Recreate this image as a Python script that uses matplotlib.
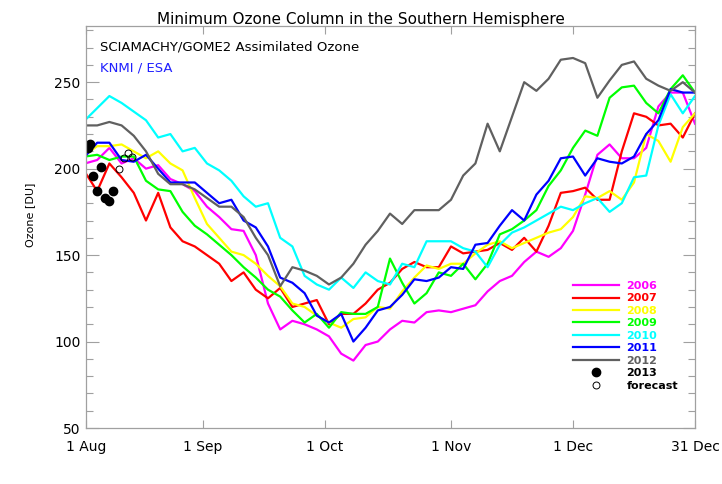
import numpy as np
import matplotlib
matplotlib.use("Agg")
import matplotlib.pyplot as plt
from matplotlib.lines import Line2D

# days since 1 Aug, sampled every 3 days
days = list(range(2, 153, 3))

o3_2006 = [203, 205, 212, 203, 206, 200, 202, 194, 191, 187, 178, 172, 165, 164, 150, 122, 107,
           112, 110, 107, 103, 93, 89, 98, 100, 107, 112, 111, 117, 118, 117, 119, 121, 129,
           135, 138, 146, 152, 149, 154, 164, 185, 208, 214, 206, 206, 212, 236, 244, 244, 226]
o3_2007 = [198, 187, 203, 195, 186, 170, 186, 166, 158, 155, 150, 145, 135, 140, 130, 125, 131,
           120, 122, 124, 110, 116, 116, 122, 130, 134, 142, 146, 143, 143, 155, 151, 152, 153,
           157, 153, 160, 152, 167, 186, 187, 189, 182, 182, 210, 232, 230, 225, 226, 218, 232]
o3_2008 = [208, 213, 213, 214, 210, 206, 210, 203, 199, 183, 168, 160, 152, 150, 145, 138, 132,
           122, 120, 115, 111, 108, 113, 114, 120, 119, 129, 137, 144, 142, 145, 145, 151, 156,
           158, 154, 157, 160, 163, 165, 172, 184, 183, 187, 182, 192, 220, 216, 204, 224, 232]
o3_2009 = [207, 208, 205, 207, 207, 193, 188, 187, 175, 167, 162, 156, 150, 143, 137, 130, 126,
           118, 111, 116, 108, 117, 116, 116, 120, 148, 134, 122, 128, 140, 138, 145, 136, 145,
           162, 165, 170, 176, 190, 199, 212, 222, 219, 241, 247, 248, 238, 232, 246, 254, 244]
o3_2010 = [228, 235, 242, 238, 233, 228, 218, 220, 210, 212, 203, 199, 193, 184, 178, 180, 160,
           155, 138, 133, 130, 137, 131, 140, 135, 133, 145, 143, 158, 158, 158, 154, 152, 143,
           156, 163, 166, 170, 174, 178, 176, 180, 183, 175, 180, 195, 196, 225, 243, 232, 242]
o3_2011 = [207, 215, 215, 205, 204, 208, 200, 192, 192, 192, 186, 180, 182, 170, 166, 155, 137,
           134, 128, 115, 111, 116, 100, 108, 118, 120, 127, 136, 135, 137, 143, 142, 156, 157,
           167, 176, 170, 185, 193, 206, 207, 196, 206, 204, 203, 207, 220, 228, 246, 244, 244]
o3_2012 = [225, 225, 227, 225, 219, 210, 197, 191, 191, 188, 183, 178, 178, 172, 160, 150, 132,
           143, 141, 138, 133, 137, 145, 156, 164, 174, 168, 176, 176, 176, 182, 196, 203, 226,
           210, 230, 250, 245, 252, 263, 264, 261, 241, 251, 260, 262, 252, 248, 245, 250, 244]

days_2013 = [2.75, 3.25, 4, 5, 6, 7, 8, 9]
o3_2013 = [212, 214, 196, 187, 201, 183, 181, 187]
days_fc = [10.4, 11.6, 12.6, 13.6]
o3_fc = [200, 206, 209, 207]

years = ["2006", "2007", "2008", "2009", "2010", "2011", "2012"]
series = [o3_2006, o3_2007, o3_2008, o3_2009, o3_2010, o3_2011, o3_2012]
colors = ["#ff00ff", "#ff0000", "#ffff00", "#00ff00", "#00ffff", "#0000ff", "#606060"]

tick_pos = [2.25, 31, 61, 92, 122, 152]
tick_lab = ["1 Aug", "1 Sep", "1 Oct", "1 Nov", "1 Dec", "31 Dec"]

fig = plt.figure(figsize=(7.22, 4.84), dpi=100)
ax = fig.add_axes([86/722, 56/484, 609/722, 402/484])

for yr, vals, c in zip(years, series, colors):
    ax.plot(days, vals, color=c, lw=1.6)
ax.plot(days_2013, o3_2013, "o", color="black", ms=6, ls="none")
ax.plot(days_fc, o3_fc, "o", mfc="none", mec="black", mew=0.7, ms=5, ls="none")

ax.set_xlim(2.25, 152)
ax.set_ylim(50, 282.5)
ax.set_xticks(tick_pos)
ax.set_xticklabels(tick_lab)
ax.set_yticks([50, 100, 150, 200, 250])
ax.set_yticks(np.arange(60, 281, 10), minor=True)

grey = "#a0a0a0"
for s in ax.spines.values():
    s.set_color(grey)
    s.set_linewidth(0.9)
ax.tick_params(axis="x", which="major", direction="in", length=6, width=0.8, color=grey,
               top=True, labelsize=10, pad=8.5)
ax.tick_params(axis="y", which="major", direction="in", length=9, width=0.8, color=grey,
               right=True, labelsize=10, pad=4)
ax.tick_params(axis="y", which="minor", direction="in", length=4.8, width=0.8, color=grey,
               right=True)

ax.set_ylabel("Ozone [DU]", fontsize=8)
ax.yaxis.set_label_coords(-0.084, 0.531)
fig.suptitle("Minimum Ozone Column in the Southern Hemisphere", fontsize=11, y=0.975)

ax.text(0.023, 0.948, "SCIAMACHY/GOME2 Assimilated Ozone", transform=ax.transAxes,
        fontsize=9.5, va="center", ha="left")
ax.text(0.023, 0.8955, "KNMI / ESA", transform=ax.transAxes, fontsize=9.5,
        va="center", ha="left", color="#2020ff")

# legend
handles = [Line2D([], [], color=c, lw=1.6) for c in colors]
handles.append(Line2D([], [], marker="o", color="black", ls="none", ms=6))
handles.append(Line2D([], [], marker="o", mfc="none", mec="black", mew=0.7, ls="none", ms=5))
labels = years + ["2013", "forecast"]
leg = ax.legend(handles, labels, loc="upper left", bbox_to_anchor=(573/722, 1 - 281/484),
                bbox_transform=fig.transFigure, frameon=False, borderpad=0, borderaxespad=0,
                handlelength=4.1, handletextpad=0.7, labelspacing=0.22,
                prop={"size": 8, "weight": "bold"})
for txt, c in zip(leg.get_texts(), colors + ["black", "black"]):
    txt.set_color(c)

fig.savefig("out.png", dpi=100)
